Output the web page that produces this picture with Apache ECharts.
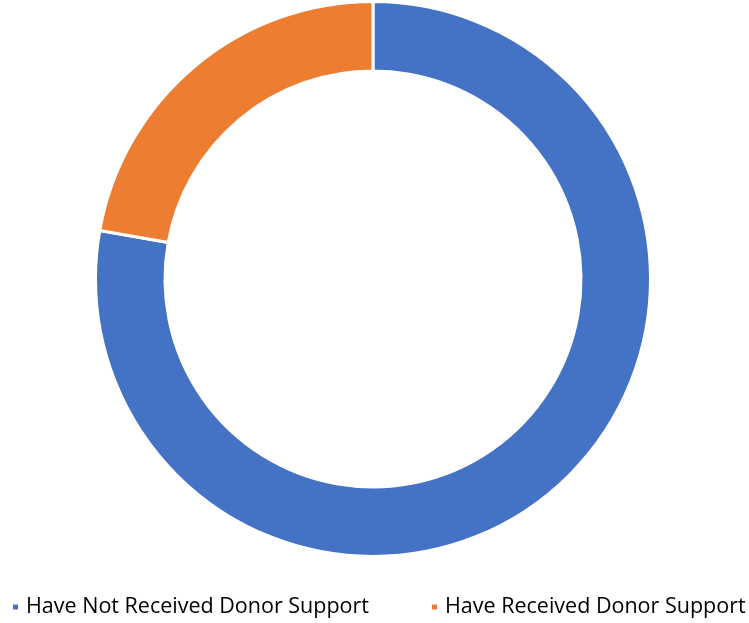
<!DOCTYPE html>
<html>
<head>
<meta charset="utf-8">
<script src="https://cdn.jsdelivr.net/npm/echarts@6/dist/echarts.min.js"></script>
<style>html,body{margin:0;padding:0;background:#fff;}#c{width:749px;height:623px;}</style>
</head>
<body>
<div id="c"></div>
<script>
const categories = ["Have Not Received Donor Support", "Have Received Donor Support"];
const values = [77.8, 22.2];
const colors = ["#4472C4", "#ED7D31"];

const legendBase = {
  top: 596,
  itemWidth: 7,
  itemHeight: 7,
  icon: 'rect',
  padding: 0,
  textStyle: { fontFamily: 'Open Sans', fontSize: 21.5, color: '#000', padding: [0, 0, 0, 2] }
};

const chart = echarts.init(document.getElementById('c'));
chart.setOption({
  animation: false,
  color: colors,
  legend: [
    Object.assign({}, legendBase, { left: 11, data: [categories[0]] }),
    Object.assign({}, legendBase, { left: 430, data: [categories[1]] })
  ],
  series: [{
    type: 'pie',
    center: [373, 279],
    radius: [208, 277.5],
    startAngle: 90,
    clockwise: true,
    label: { show: false },
    labelLine: { show: false },
    itemStyle: { borderColor: '#fff', borderWidth: 3 },
    data: categories.map((n, i) => ({ name: n, value: values[i] }))
  }]
});
</script>
</body>
</html>
